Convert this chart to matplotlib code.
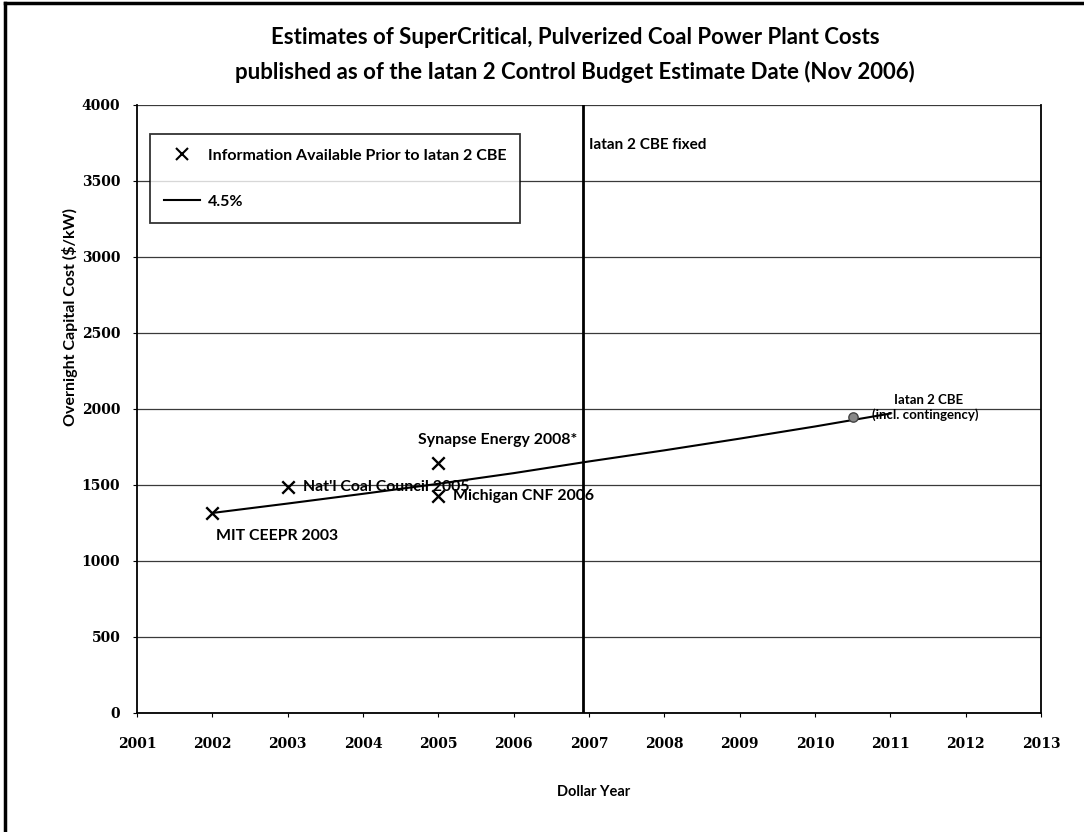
import numpy as np
import matplotlib
matplotlib.use("Agg")
import matplotlib.pyplot as plt
from matplotlib.lines import Line2D

# estimates published before the Iatan 2 CBE
est_labels = ["MIT CEEPR 2003", "Nat'l Coal Council 2005", "Synapse Energy 2008*", "Michigan CNF 2006"]
est_years = [2002, 2003, 2005, 2005]
est_costs = [1316, 1487, 1645, 1428]

# 4.5% escalation line
trend_years = [2002, 2003, 2004, 2005, 2006, 2007, 2008, 2009, 2010, 2011]
trend_costs = [1316, 1378, 1442, 1508, 1578, 1655, 1728, 1805, 1885, 1970]

# Iatan 2 control budget estimate
cbe_year = 2010.5
cbe_cost = 1947
cbe_fixed = 2006.92

x_ticks = list(range(2001, 2014))
y_ticks = list(range(0, 4001, 500))

plt.rcParams['font.family'] = ['Lato', 'DejaVu Sans']

W, H = 1084, 832
fig = plt.figure(figsize=(W / 100, H / 100), dpi=100)
ax = fig.add_axes([137 / W, 1 - 713 / H, (1041 - 137) / W, (713 - 105) / H])

# grid
for y in y_ticks:
    ax.axhline(y, color='#3a3a3a', lw=0.9, zorder=1)

ax.plot(trend_years, trend_costs, color='black', lw=1.5, zorder=3)
ax.scatter(est_years, est_costs, marker='x', s=80, color='black', linewidths=1.7, zorder=4)
ax.scatter([cbe_year], [cbe_cost], marker='o', s=45, color='#888888', edgecolors='#444444', zorder=4)
ax.axvline(cbe_fixed, color='black', lw=2, zorder=2)

# point labels
fs = 11.4
ax.text(2002 + 0.05, 1164, est_labels[0], fontsize=fs, fontweight='bold', va='center', ha='left')
ax.text(2003 + 0.2, 1487, est_labels[1], fontsize=fs, fontweight='bold', va='center', ha='left')
ax.text(2005 - 0.27, 1796, est_labels[2], fontsize=fs, fontweight='bold', va='center', ha='left')
ax.text(2005 + 0.2, 1428, est_labels[3], fontsize=fs, fontweight='bold', va='center', ha='left')
ax.text(2010.5 + 0.55, 2059, 'Iatan 2 CBE', fontsize=9.5, fontweight='bold', va='center', ha='left')
ax.text(2010.5 + 0.25, 1961, '(incl. contingency)', fontsize=9.5, fontweight='bold', va='center', ha='left')
ax.text(cbe_fixed + 0.08, 3737, 'Iatan 2 CBE fixed', fontsize=11, fontweight='bold', va='center', ha='left')

ax.set_xlim(2001, 2013)
ax.set_ylim(0, 4000)
ax.set_xticks(x_ticks)
ax.set_yticks(y_ticks)
ax.set_xticklabels([str(t) for t in x_ticks], family='DejaVu Serif', fontweight='bold', fontsize=10)
ax.set_yticklabels([str(t) for t in y_ticks], family='DejaVu Serif', fontweight='bold', fontsize=10)
ax.tick_params(axis='both', direction='out', length=3, color='black')
ax.tick_params(axis='y', pad=9)
ax.tick_params(axis='x', pad=14)
for s in ['left', 'bottom', 'right']:
    ax.spines[s].set_linewidth(1.3)
    ax.spines[s].set_color('black')
ax.spines['top'].set_visible(False)

handles = [Line2D([], [], marker='x', ls='none', color='black', markersize=9, markeredgewidth=1.5),
           Line2D([], [], color='black', lw=1.5)]
leg = ax.legend(handles, ['Information Available Prior to Iatan 2 CBE', '4.5%'],
                loc='upper left', bbox_to_anchor=(13 / 904, 1 - 29 / 608), frameon=True,
                fancybox=False, edgecolor='black', labelspacing=2.0, borderpad=0.9,
                handlelength=2.2, handletextpad=0.5, borderaxespad=0,
                prop={'size': 11.5, 'weight': 'bold'})
leg.get_frame().set_linewidth(1.3)

fig.text(575 / W, 1 - 38 / H, 'Estimates of SuperCritical, Pulverized Coal Power Plant Costs',
         ha='center', va='center', fontsize=16, fontweight='bold')
fig.text(575 / W, 1 - 72 / H, 'published as of the Iatan 2 Control Budget Estimate Date (Nov 2006)',
         ha='center', va='center', fontsize=16, fontweight='bold')
fig.text(70 / W, 1 - 317 / H, 'Overnight Capital Cost ($/kW)', rotation=90,
         ha='center', va='center', fontsize=11.5, fontweight='bold')
fig.text(594 / W, 1 - 792 / H, 'Dollar Year', ha='center', va='center', fontsize=10.5, fontweight='bold')

# page border (left and top edges)
fig.add_artist(Line2D([5 / W, 5 / W], [0, 1 - 3 / H], color='black', lw=2.5, transform=fig.transFigure))
fig.add_artist(Line2D([5 / W, 1], [1 - 3 / H, 1 - 3 / H], color='black', lw=2.5, transform=fig.transFigure))

fig.savefig('out.png', dpi=100)
